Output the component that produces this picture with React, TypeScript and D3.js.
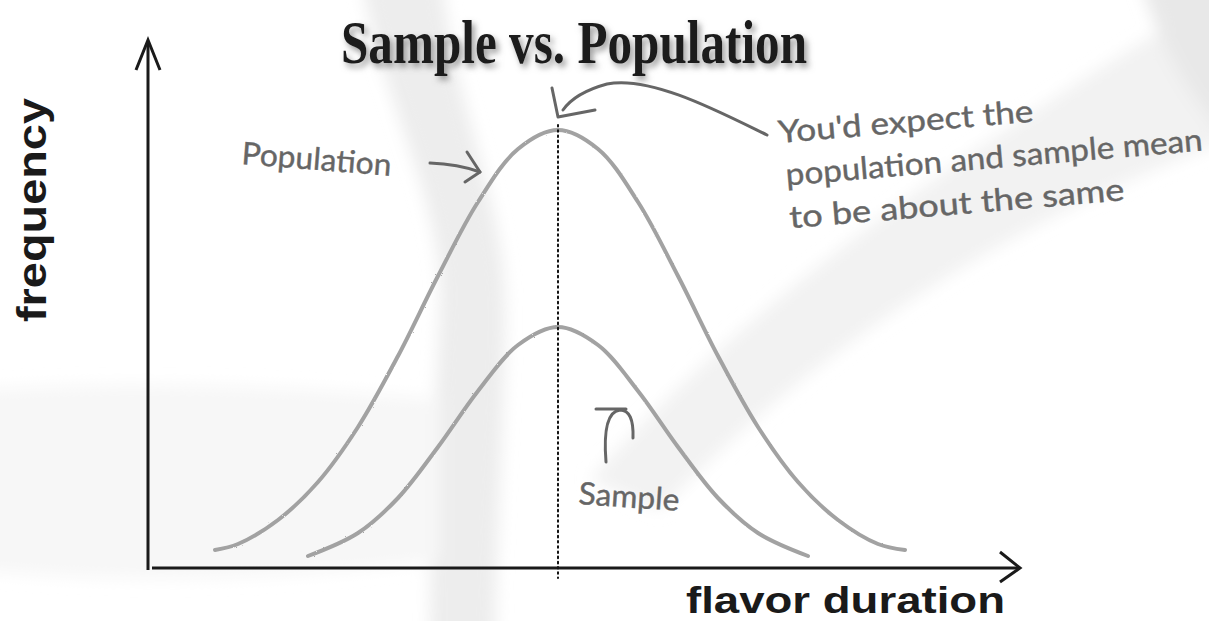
import * as d3 from 'd3'

// x: flavor duration (1 unit = 10px), y: frequency
const popX = [6.7, 9, 13, 17, 21, 25, 29, 33, 37, 41, 45, 49, 53, 57, 61, 65, 69, 73, 75.7]
const popY = [1.8, 2.4, 4.8, 8.6, 14.1, 21.2, 29.2, 36.6, 41.9, 43.8, 41.9, 36.6, 29.2, 21.2, 14.1, 8.6, 4.8, 2.4, 1.8]

const sampX = [16, 21, 25, 29, 33, 37, 41, 45, 49, 53, 57, 61, 66]
const sampY = [1.2, 3.5, 7.0, 12.1, 17.7, 22.3, 24.1, 22.3, 17.7, 12.1, 7.0, 3.5, 1.2]

const meanX = 41

const title = 'Sample vs. Population'
const xLabel = 'flavor duration'
const yLabel = 'frequency'
const noteLines = ["You'd expect the", 'population and sample mean', 'to be about the same']
const noteWidths = [256, 418, 336]

export default function App() {
    const width = 1209
    const height = 621
    const margin = { top: 40, right: 189, bottom: 53, left: 148 }

    const x = d3.scaleLinear().domain([0, 87.2]).range([margin.left, width - margin.right])
    const y = d3.scaleLinear().domain([0, 52.8]).range([height - margin.bottom, margin.top])

    const line = d3.line<[number, number]>()
        .x(d => x(d[0]))
        .y(d => y(d[1]))
        .curve(d3.curveCatmullRom)

    const popPts = popX.map((v, i) => [v, popY[i]] as [number, number])
    const sampPts = sampX.map((v, i) => [v, sampY[i]] as [number, number])

    const x0 = x(0)
    const y0 = y(0)
    const mx = x(meanX)
    const hand = {
        fontFamily: 'Lato, "Noto Sans", sans-serif', fill: '#666', stroke: '#666', strokeWidth: 0.4,
        fontSize: 31, lengthAdjust: 'spacingAndGlyphs'
    }
    const ink = { fill: 'none', stroke: '#666', strokeWidth: 3, strokeLinecap: 'round' as const, strokeLinejoin: 'round' as const }

    return (
        <svg width={width} height={height} style={{ position: 'absolute', left: 0, top: 0, background: '#fff' }}>
            <defs>
                <filter id="shadow" x="-10%" y="-30%" width="120%" height="160%">
                    <feDropShadow dx="3" dy="4" stdDeviation="3" floodColor="#777" floodOpacity="0.75" />
                </filter>
                <filter id="pencil">
                    <feTurbulence type="fractalNoise" baseFrequency="0.9" numOctaves="2" result="n" />
                    <feDisplacementMap in="SourceGraphic" in2="n" scale="1.8" />
                </filter>
                <filter id="soft" x="-50%" y="-50%" width="200%" height="200%">
                    <feGaussianBlur stdDeviation="8" />
                </filter>
            </defs>

            {/* faint watermark background */}
            <g filter="url(#soft)">
                <path d="M362,-20 C380,100 445,200 440,306 C436,400 430,500 430,640 L495,640 C497,500 506,400 505,306 C505,200 452,100 442,-20 Z"
                    fill="#ededed" />
                <path d="M-20,390 C120,380 300,385 440,400 L440,560 C300,580 120,585 -20,570 Z" fill="#f7f7f7" />
                <path d="M590,480 Q800,240 1230,-10 L1230,140 Q900,260 660,510 Z" fill="#f2f2f2" />
                <path d="M1140,-20 L1230,-20 L1230,140 Q1170,80 1140,-20 Z" fill="#e8e8e8" />
            </g>

            {/* title */}
            <text x={574} y={63} textAnchor="middle" fontFamily='"Liberation Serif", "DejaVu Serif", serif'
                fontWeight="bold" fontSize={62} fill="#1a1a1a" textLength={466} lengthAdjust="spacingAndGlyphs"
                filter="url(#shadow)">
                {title}
            </text>

            {/* axes */}
            <line x1={x0} y1={y0 + 2} x2={x0} y2={y(52.6)} stroke="#1a1a1a" strokeWidth={3} />
            <path d={`M${x0 - 12},${y(52.8) + 30} L${x0},${y(52.8)} L${x0 + 12},${y(52.8) + 30}`}
                fill="none" stroke="#1a1a1a" strokeWidth={3} />
            <line x1={x0 + 4} y1={y0} x2={x(87)} y2={y0} stroke="#1a1a1a" strokeWidth={3} />
            <path d={`M${x(87.2) - 20},${y0 - 16} L${x(87.2)},${y0} L${x(87.2) - 20},${y0 + 14}`}
                fill="none" stroke="#1a1a1a" strokeWidth={3} />

            <text transform={`translate(46,210) rotate(-90)`} textAnchor="middle"
                fontFamily='"Liberation Sans", Arial, sans-serif' fontWeight="bold" fontSize={40}
                fill="#1a1a1a" textLength={224} lengthAdjust="spacingAndGlyphs">{yLabel}</text>
            <text x={1005} y={613} textAnchor="end"
                fontFamily='"Liberation Sans", Arial, sans-serif' fontWeight="bold" fontSize={37}
                fill="#1a1a1a" textLength={319} lengthAdjust="spacingAndGlyphs">{xLabel}</text>

            {/* curves */}
            <g filter="url(#pencil)">
                <path d={line(popPts) ?? ''} fill="none" stroke="#a2a2a2" strokeWidth={4} strokeLinecap="round" />
                <path d={line(sampPts) ?? ''} fill="none" stroke="#a2a2a2" strokeWidth={4} strokeLinecap="round" />
            </g>

            {/* mean line */}
            <line x1={mx} y1={y(44.3)} x2={mx} y2={y(-1)} stroke="#111" strokeWidth={2}
                strokeDasharray="1.6 3.6" strokeLinecap="round" />

            {/* annotations */}
            <text transform="translate(241,164) rotate(4.5)" {...hand} textLength={150}>Population</text>
            <path d="M430,163 Q458,164 480,172" {...ink} />
            <path d="M467,152 L480,172 L465,182" {...ink} />

            <path d="M767,135 C720,112 650,75 607,84 C585,90 570,100 563,110" {...ink} />
            <path d="M552,88 L558,117 L595,110" {...ink} />

            <g transform="translate(779,143) rotate(-4.8)">
                {noteLines.map((t, i) => (
                    <text key={i} x={i === 0 ? 0 : 4} y={i * 43} {...hand} textLength={noteWidths[i]}>{t}</text>
                ))}
            </g>

            <path d="M606,462 Q602,412 620,410 Q634,410 633,438" {...ink} />
            <path d="M596,409 L626,409" {...ink} />
            <text transform="translate(578,504) rotate(4)" {...hand} textLength={101}>Sample</text>
        </svg>
    )
}
